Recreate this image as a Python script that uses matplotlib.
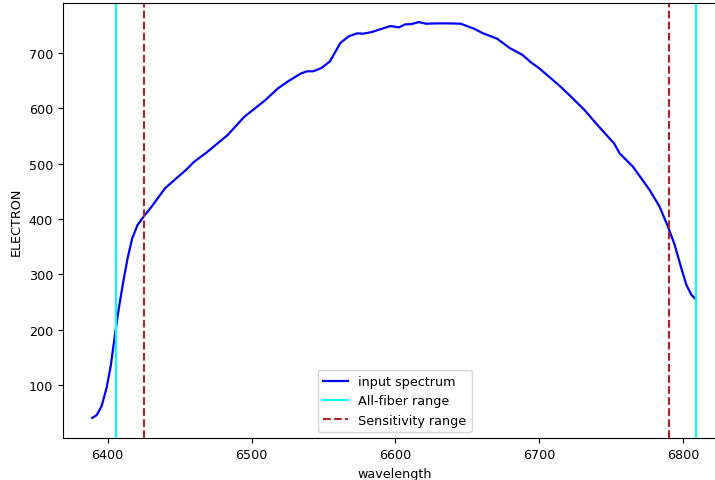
import matplotlib
matplotlib.use("Agg")
import matplotlib.pyplot as plt

plt.rcParams["font.size"] = 9.2

wavelength = [6389.3, 6392.4, 6395.8, 6399.3, 6402.3, 6405.1, 6407.8, 6410.9, 6413.9,
              6417.1, 6420.8, 6425.0, 6430.6, 6439.8, 6454.3, 6460.1, 6468.8, 6483.3,
              6494.9, 6509.5, 6518.2, 6525.4, 6534.1, 6538.5, 6542.8, 6548.6, 6554.5,
              6561.7, 6567.5, 6573.3, 6577.7, 6583.5, 6589.3, 6596.5, 6602.4, 6606.7,
              6611.1, 6616.3, 6621.2, 6628.5, 6637.2, 6645.3, 6654.6, 6660.4, 6670.6,
              6679.3, 6688.0, 6694.7, 6699.6, 6706.9, 6714.1, 6721.4, 6731.5, 6737.4,
              6744.6, 6751.9, 6755.8, 6765.0, 6776.6, 6783.5, 6789.3, 6794.0, 6798.6,
              6802.1, 6805.6, 6807.9]
electron = [41.1, 46.0, 62.2, 95.2, 137.1, 191.2, 239.3, 287.4, 329.4,
            365.4, 389.4, 404.5, 422.5, 455.5, 488.5, 503.5, 520.4, 551.6,
            584.6, 614.7, 635.7, 648.9, 662.7, 666.9, 666.9, 672.9, 684.9,
            718.0, 730.0, 735.4, 734.8, 737.8, 742.6, 748.6, 746.2, 751.6,
            752.2, 755.8, 752.8, 753.4, 753.4, 752.8, 743.8, 736.0, 725.8,
            709.0, 696.9, 681.9, 672.9, 656.7, 640.5, 622.5, 596.6, 578.6,
            557.6, 536.6, 518.6, 494.6, 452.5, 422.5, 386.5, 353.4, 311.4,
            281.3, 263.3, 257.3]
allfiber_range = [6405.5, 6808.8]
sensitivity_range = [6425.0, 6790.0]

fig = plt.figure(figsize=(7.15, 4.81), dpi=100)
ax = fig.add_axes([0.0877, 0.0867, 0.9284, 0.9056])

ax.plot(wavelength, electron, color="blue", lw=1.6, label="input spectrum")
for i, v in enumerate(allfiber_range):
    ax.axvline(v, color="cyan", lw=1.5, label="All-fiber range" if i == 0 else None)
for i, v in enumerate(sensitivity_range):
    ax.axvline(v, color="firebrick", lw=1.5, ls="--",
               label="Sensitivity range" if i == 0 else None)

ax.set_xlim(6368.8, 6830.0)
ax.set_ylim(4.25, 790.75)
ax.set_xlabel("wavelength")
ax.set_ylabel("ELECTRON")
ax.legend(loc="lower center")

fig.savefig("out.png", dpi=100)
